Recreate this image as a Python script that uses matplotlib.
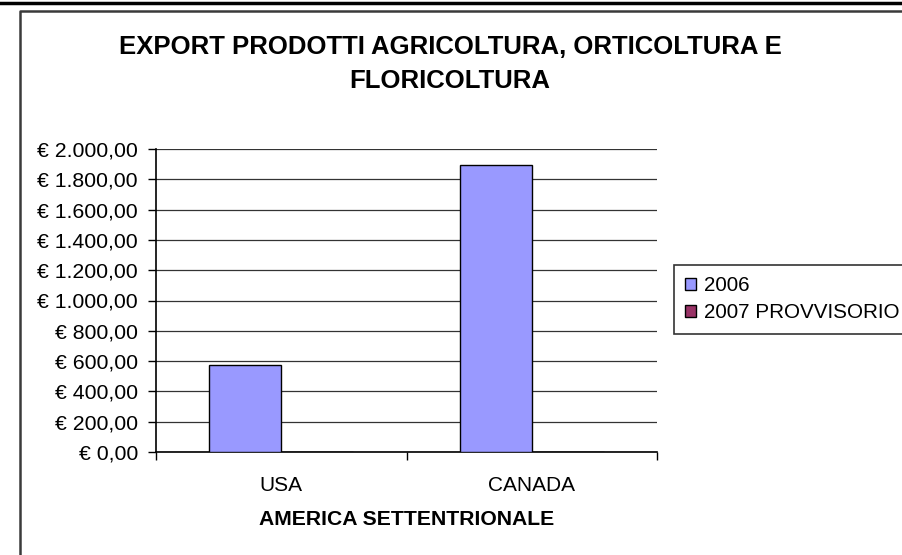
import numpy as np
import matplotlib.pyplot as plt
from matplotlib.patches import Patch
from matplotlib.lines import Line2D

plt.rcParams['font.family'] = ['Liberation Sans', 'DejaVu Sans']

categories = ["USA", "CANADA"]
series_names = ["2006", "2007 PROVVISORIO"]
values_2006 = [574, 1894]
values_2007 = [0, 0]
colors = ["#9999FF", "#993366"]
yticks = [0, 200, 400, 600, 800, 1000, 1200, 1400, 1600, 1800, 2000]


def euro(v):
    s = f"{v:,.2f}".replace(",", "X").replace(".", ",").replace("X", ".")
    return "€ " + s


fig = plt.figure(figsize=(9.02, 5.55), dpi=100)

# outer decorations (black top rule and chart frame)
fig.add_artist(Line2D([0, 1], [1 - 3 / 555, 1 - 3 / 555], color="black", lw=2.5))
fig.add_artist(Line2D([20 / 902, 20 / 902, 1], [0, 1 - 11 / 555, 1 - 11 / 555],
                      color="#3a3a3a", lw=1.8))

ax = fig.add_axes([156 / 902, 1 - 452 / 555, 501 / 902, 303 / 555])

x = np.arange(len(categories))
w = 0.288
ax.bar(x - w / 2, values_2006, w, color=colors[0], edgecolor="black", lw=1, zorder=3)
ax.bar(x + w / 2, values_2007, w, color=colors[1], edgecolor="black", lw=1, zorder=3)

ax.set_xlim(-0.5, len(categories) - 0.5)
ax.set_ylim(0, 2000)
ax.set_yticks(yticks)
ax.set_yticklabels([euro(v) for v in yticks], fontsize=15.3)
ax.yaxis.grid(True, color="#333333", lw=0.9, zorder=0)
ax.set_axisbelow(True)

ax.set_xticks(x)
ax.set_xticklabels(categories, fontsize=15)
ax.tick_params(axis="x", length=0, pad=17)
ax.set_xticks([-0.5, 0.5, 1.5], minor=True)
ax.tick_params(axis="x", which="minor", length=6, width=1, direction="out")
ax.tick_params(axis="y", length=6, width=1, pad=7)

for s in ["top", "right"]:
    ax.spines[s].set_visible(False)
ax.spines["left"].set_linewidth(1.2)
ax.spines["bottom"].set_linewidth(1.2)

ax.set_xlabel("AMERICA SETTENTRIONALE", fontsize=15.2, fontweight="bold", labelpad=11)

fig.text(450 / 902, 1 - 47 / 555, "EXPORT PRODOTTI AGRICOLTURA, ORTICOLTURA E",
         ha="center", va="center", fontsize=18.5, fontweight="bold")
fig.text(450 / 902, 1 - 81 / 555, "FLORICOLTURA",
         ha="center", va="center", fontsize=18.5, fontweight="bold")

handles = [Patch(facecolor=c, edgecolor="black", lw=1) for c in colors]
leg = fig.legend(handles, series_names, loc="upper left",
                 bbox_to_anchor=(674 / 902, 1 - 265 / 555), fontsize=14.9,
                 frameon=True, fancybox=False, edgecolor="black",
                 handlelength=0.5, handleheight=0.5, handletextpad=0.4,
                 borderpad=0.55, labelspacing=0.38, borderaxespad=0)
leg.get_frame().set_linewidth(1.2)

fig.savefig("out.png", dpi=100)
